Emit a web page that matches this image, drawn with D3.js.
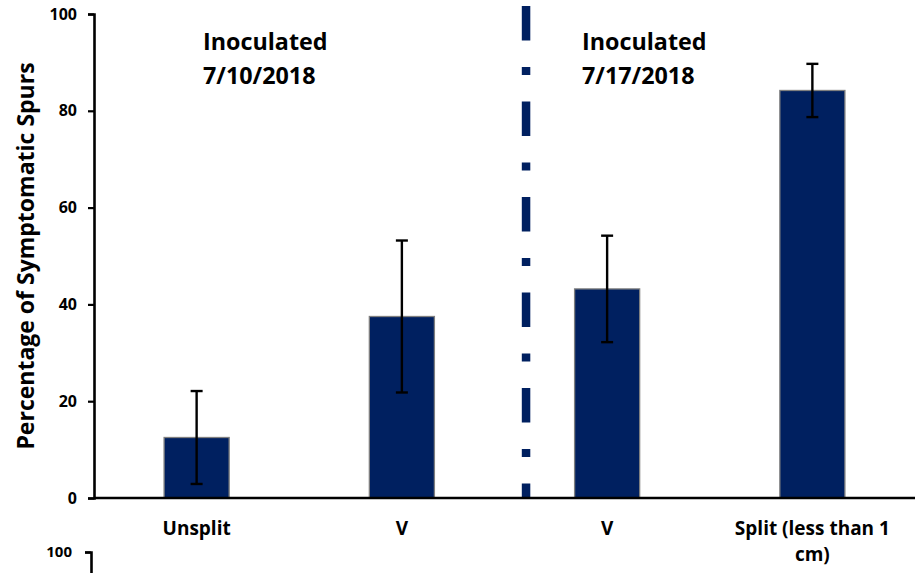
<!DOCTYPE html>
<html>
<head>
<meta charset="utf-8">
<script src="https://cdn.jsdelivr.net/npm/d3@7"></script>
<style>
  html, body { margin: 0; padding: 0; background: #fff; }
  svg { display: block; }
  text { font-family: "Open Sans", Lato, sans-serif; font-weight: 700; fill: #000; }
</style>
</head>
<body>
<svg id="chart" width="915" height="573"></svg>
<script>
// Spur infection by treatment, two inoculation dates
const categories = ["Unsplit", "V", "V", "Split (less than 1 cm)"];
const categoryLines = [["Unsplit"], ["V"], ["V"], ["Split (less than 1", "cm)"]];
const values = [12.5, 37.5, 43.2, 84.2];
const errors = [9.6, 15.7, 11.0, 5.5];
const yTicks = [0, 20, 40, 60, 80, 100];
const groupTitles = [["Inoculated", "7/10/2018"], ["Inoculated", "7/17/2018"]];
const yTitle = "Percentage of Symptomatic Spurs";

const navy = "#002060";
const W = 915, H = 573;
const svg = d3.select("#chart");

const plotLeft = 94, plotRight = 915, plotTop = 14, plotBottom = 498;

const x = d3.scaleBand()
  .domain(d3.range(categories.length))
  .range([plotLeft, plotRight])
  .paddingInner(0.683)
  .paddingOuter(0.3415);

const y = d3.scaleLinear().domain([0, 100]).range([plotBottom, plotTop]);

// bars
svg.append("g").selectAll("rect")
  .data(values)
  .join("rect")
  .attr("x", (d, i) => x(i))
  .attr("y", d => y(d))
  .attr("width", x.bandwidth())
  .attr("height", d => y(0) - y(d))
  .attr("fill", navy)
  .attr("stroke", "#7f7f7f")
  .attr("stroke-width", 1.3);

// error bars
const eb = svg.append("g").attr("stroke", "#000").attr("stroke-width", 2.4);
values.forEach((v, i) => {
  const cx = x(i) + x.bandwidth() / 2;
  const hi = y(v + errors[i]), lo = y(v - errors[i]);
  eb.append("line").attr("x1", cx).attr("x2", cx).attr("y1", hi).attr("y2", lo);
  eb.append("line").attr("x1", cx - 6).attr("x2", cx + 6).attr("y1", hi).attr("y2", hi);
  eb.append("line").attr("x1", cx - 6).attr("x2", cx + 6).attr("y1", lo).attr("y2", lo);
});

// dash-dot divider between the two inoculation dates
const dividerX = plotLeft + x.step() * 2.105;
svg.append("line")
  .attr("x1", dividerX).attr("x2", dividerX)
  .attr("y1", plotTop - 8).attr("y2", plotBottom)
  .attr("stroke", navy)
  .attr("stroke-width", 8.5)
  .attr("stroke-dasharray", "34.5 26.5 8 26.5");

function styleAxis(g, fontSize) {
  g.attr("font-size", fontSize).attr("font-family", null);
  g.select(".domain").attr("stroke", "#000").attr("stroke-width", 2.6);
  g.selectAll(".tick line").attr("stroke", "#000").attr("stroke-width", 2.2);
  g.selectAll(".tick text")
    .style("font-size", fontSize + "px")
    .style("font-weight", 700);
}

// y axis
const yAxis = svg.append("g")
  .attr("transform", `translate(${plotLeft},0)`)
  .call(d3.axisLeft(y).tickValues(yTicks).tickSize(6).tickPadding(11));
styleAxis(yAxis, 16);

// x axis baseline
svg.append("line")
  .attr("x1", plotLeft).attr("x2", plotRight)
  .attr("y1", y(0)).attr("y2", y(0))
  .attr("stroke", "#000").attr("stroke-width", 2.6);

// category labels
const xl = svg.append("g");
categoryLines.forEach((lines, i) => {
  const cx = x(i) + x.bandwidth() / 2;
  const t = xl.append("text")
    .attr("text-anchor", "middle")
    .attr("font-size", 19);
  lines.forEach((ln, k) => {
    t.append("tspan").attr("x", cx).attr("y", 535 + k * 26).text(ln);
  });
});

// y axis title
svg.append("text")
  .attr("transform", `translate(34,${(plotTop + plotBottom) / 2}) rotate(-90)`)
  .attr("text-anchor", "middle")
  .attr("font-size", 23)
  .text(yTitle);

// group titles
const titleX = [203, 582];
groupTitles.forEach((lines, g) => {
  const t = svg.append("text").attr("font-size", 23.3);
  lines.forEach((ln, k) => {
    t.append("tspan").attr("x", titleX[g]).attr("y", 50 + k * 34).text(ln);
  });
});

// top of the next panel's y axis (only its upper end falls inside the frame)
const y2 = d3.scaleLinear().domain([0, 100]).range([552 + (plotBottom - plotTop), 552]);
const y2Axis = svg.append("g")
  .attr("transform", "translate(91,0)")
  .call(d3.axisLeft(y2).tickValues(yTicks.filter(v => y2(v) < H - 10)).tickSize(6).tickPadding(13));
styleAxis(y2Axis, 15);
</script>
</body>
</html>
